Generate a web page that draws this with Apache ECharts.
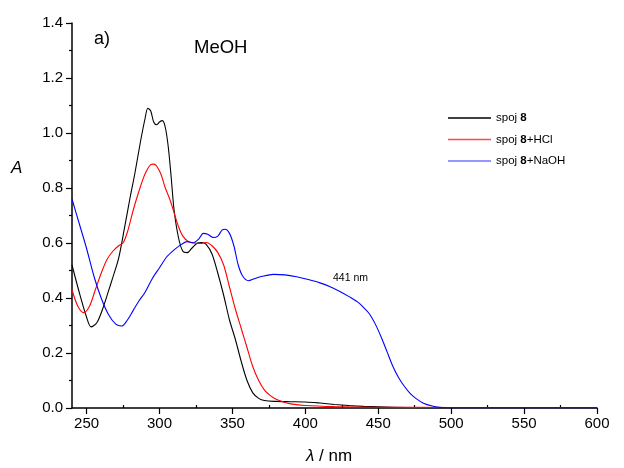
<!DOCTYPE html>
<html><head><meta charset="utf-8">
<script src="https://cdn.jsdelivr.net/npm/echarts@6/dist/echarts.min.js"></script>
<style>html,body{margin:0;padding:0;background:#fff}#c{width:624px;height:468px}</style>
</head><body><div id="c"></div>
<script>
const seriesNames = ['spoj 8', 'spoj 8+HCl', 'spoj 8+NaOH'];
const xMajorTicks = [250, 300, 350, 400, 450, 500, 550, 600];
const xMinorTicks = [275, 325, 375, 425, 475, 525, 575];

const wlBlack = [240,245,250,253,257,261,265,268,272,276,280,283,287,290,292,294,296,298,300,302,304,306,308,310,313,316,319,322,326,329,332,336,340,344,348,352,356,360,364,368,372,380,390,400,410,420,430,440,450,470,500,550,600];
const absBlack = [0.52,0.42,0.33,0.295,0.31,0.36,0.425,0.475,0.545,0.655,0.77,0.85,0.97,1.05,1.09,1.08,1.04,1.03,1.04,1.045,1.02,0.95,0.84,0.72,0.62,0.57,0.565,0.58,0.60,0.602,0.595,0.56,0.49,0.41,0.32,0.25,0.17,0.10,0.055,0.035,0.027,0.024,0.023,0.022,0.018,0.013,0.009,0.006,0.004,0.002,0.001,0.001,0.001];

const wlRed = [240,244,248,252,256,260,264,268,272,275,278,282,286,290,294,296,298,301,304,307,310,313,316,320,324,328,332,336,340,344,348,352,356,360,364,368,372,376,380,385,390,400,420,450,500,600];
const absRed = [0.43,0.37,0.347,0.37,0.43,0.49,0.54,0.57,0.59,0.60,0.64,0.72,0.79,0.85,0.885,0.887,0.88,0.85,0.80,0.76,0.71,0.66,0.625,0.605,0.60,0.598,0.602,0.59,0.565,0.52,0.44,0.36,0.29,0.22,0.15,0.10,0.065,0.045,0.032,0.022,0.015,0.009,0.005,0.003,0.002,0.002];

const wlBlue = [240,245,250,255,260,265,270,274,278,282,286,290,295,300,305,310,315,319,323,327,330,333,337,340,343,345,348,351,354,357,361,365,370,378,386,394,402,410,417,424,430,436,440,444,448,452,456,460,464,468,472,476,481,487,492,500,600];
const absBlue = [0.76,0.67,0.58,0.48,0.40,0.34,0.305,0.298,0.32,0.355,0.39,0.42,0.47,0.51,0.55,0.575,0.595,0.605,0.601,0.615,0.635,0.632,0.62,0.625,0.648,0.65,0.635,0.59,0.52,0.48,0.463,0.47,0.478,0.486,0.484,0.477,0.467,0.455,0.441,0.423,0.405,0.385,0.365,0.342,0.305,0.258,0.205,0.152,0.11,0.078,0.052,0.034,0.017,0.007,0.003,0.001,0.001];

const zip = (xs, ys) => xs.map((x, i) => [x, ys[i]]);
const FONT = 'Liberation Sans, Arial, sans-serif';
const chart = echarts.init(document.getElementById('c'), null, {renderer: 'canvas'});
const baseX = {
  type: 'value', min: 240, max: 600,
  axisLine: {show: true, onZero: false, lineStyle: {color: '#000', width: 1.5}},
  splitLine: {show: false}
};
const mkSeries = (name, data, color) => ({
  name, type: 'line', data, symbol: 'none', smooth: 0.3,
  lineStyle: {color, width: 1.1}, itemStyle: {color}, z: 3
});
chart.setOption({
  animation: false,
  backgroundColor: '#fff',
  grid: {left: 72, right: 27, top: 23, bottom: 60, containLabel: false},
  xAxis: [
    Object.assign({}, baseX, {
      axisTick: {show: true, length: 6, lineStyle: {color: '#000', width: 1.2}, customValues: xMajorTicks},
      axisLabel: {show: true, customValues: xMajorTicks, color: '#000', fontSize: 15, fontFamily: FONT, margin: 8}
    }),
    Object.assign({}, baseX, {
      axisLine: {show: false},
      axisTick: {show: true, length: 3, lineStyle: {color: '#000', width: 1.2}, customValues: xMinorTicks},
      axisLabel: {show: false}
    })
  ],
  yAxis: {
    type: 'value', min: 0, max: 1.4, interval: 0.2,
    axisLine: {show: true, lineStyle: {color: '#000', width: 1.5}},
    axisTick: {show: true, length: 6, lineStyle: {color: '#000', width: 1.2}},
    minorTick: {show: true, splitNumber: 2, length: 3, lineStyle: {color: '#000', width: 1.2}},
    splitLine: {show: false},
    axisLabel: {color: '#000', fontSize: 15, fontFamily: FONT, margin: 9, formatter: v => v.toFixed(1)}
  },
  legend: {
    orient: 'vertical', left: 443, top: 107, itemWidth: 43, itemHeight: 1.5, itemGap: 9.5,
    icon: 'rect',
    data: seriesNames.map((n, i) => ({name: n, itemStyle: {color: ['#000', '#ff4a4a', '#7373ff'][i]}})),
    textStyle: {color: '#000', fontSize: 11.5, fontFamily: FONT, padding: [0, 0, 0, 0],
      rich: {b: {fontWeight: 'bold', fontSize: 11.5, fontFamily: FONT, color: '#000'}}},
    formatter: n => n.replace('8', '{b|8}')
  },
  series: [
    mkSeries(seriesNames[0], zip(wlBlack, absBlack), '#000000'),
    mkSeries(seriesNames[1], zip(wlRed, absRed), '#ff0000'),
    mkSeries(seriesNames[2], zip(wlBlue, absBlue), '#0000ff')
  ],
  graphic: [
    {type: 'text', left: 94, top: 30, style: {text: 'a)', font: '18px ' + FONT, fill: '#000'}},
    {type: 'text', left: 194, top: 38, style: {text: 'MeOH', font: '18.5px ' + FONT, fill: '#000'}},
    {type: 'text', left: 333, top: 273, style: {text: '441 nm', font: '10.5px ' + FONT, fill: '#000'}},
    {type: 'text', left: 11, top: 160, style: {text: 'A', font: 'italic 17px ' + FONT, fill: '#000'}},
    {type: 'text', left: 306, top: 448, style: {
      text: '{i|λ} / nm', font: '17px ' + FONT, fill: '#000',
      rich: {i: {fontStyle: 'italic', fontSize: 17, fontFamily: FONT, fill: '#000'}}}}
  ]
});
</script></body></html>
